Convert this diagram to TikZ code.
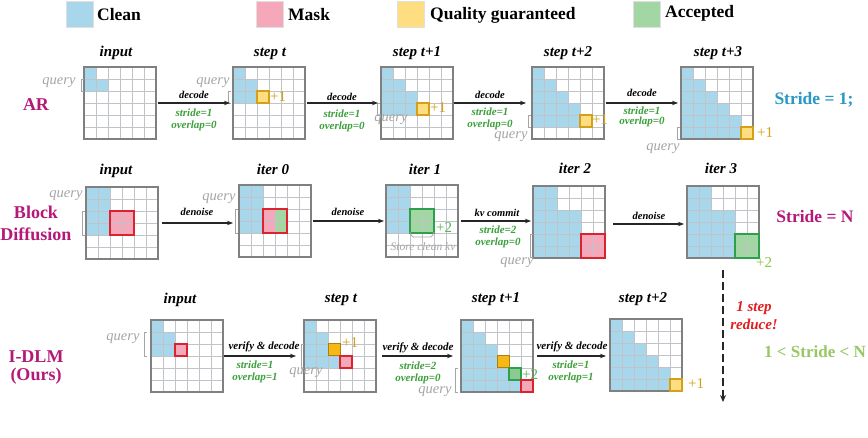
\documentclass[tikz,border=0pt]{standalone}
\usepackage{fontspec}
\setmainfont{Liberation Serif}
\usetikzlibrary{arrows.meta,calc}
\definecolor{cleanc}{RGB}{168,214,234}
\definecolor{maskc}{RGB}{245,168,186}
\definecolor{qualc}{RGB}{255,222,130}
\definecolor{qualdark}{RGB}{245,184,20}
\definecolor{accc}{RGB}{162,214,162}
\definecolor{gridc}{RGB}{192,196,200}
\definecolor{borderc}{RGB}{128,128,128}
\definecolor{redc}{RGB}{220,35,45}
\definecolor{greenc}{RGB}{45,160,75}
\definecolor{goldc}{RGB}{212,160,25}
\definecolor{labelc}{RGB}{60,160,60}
\definecolor{magc}{RGB}{180,25,120}
\definecolor{tealc}{RGB}{40,152,196}
\definecolor{lgreen}{RGB}{150,200,100}
\definecolor{queryc}{RGB}{165,165,165}
\definecolor{plusgreen}{RGB}{90,180,80}
\definecolor{plusl}{RGB}{140,196,70}
\definecolor{redtxt}{RGB}{225,30,30}
\newcommand{\mkgrid}[3]{\node[gridnode] (#1) at ({#2+36},{#3+36}) {};}
\newcommand{\fillrect}[6]{\fill[#6] ([shift={({12*(#3)},{12*(#2)})}]#1.north west) rectangle ++({12*(#4)},{12*(#5)});}
\newcommand{\stair}[2]{\foreach \ii in {0,...,#2}{\fillrect{#1}{\ii}{0}{\ii+1}{1}{cleanc}}}
\newcommand{\gridlines}[1]{\foreach \ii in {1,...,5}{\draw[gl] ([shift={({12*\ii},0)}]#1.north west) -- ++(0,72); \draw[gl] ([shift={(0,{12*\ii})}]#1.north west) -- ++(72,0);}\draw[gborder] (#1.north west) rectangle (#1.south east);}
\newcommand{\boxat}[5]{\draw[#5] ([shift={({12*(#3)},{12*(#2)})}]#1.north west) rectangle ++({12*(#4)},{12*(#4)});}
\newcommand{\qbrk}[3]{\draw[brk] ({#1+3},#2) -- (#1,#2) -- (#1,#3) -- ({#1+3},#3);}
\begin{document}
\begin{tikzpicture}[x=1pt,y=-1pt,
  gridnode/.style={minimum width=72pt,minimum height=72pt,inner sep=0pt,outer sep=0pt},
  gl/.style={draw=gridc,line width=0.6pt},
  gborder/.style={draw=borderc,line width=1.4pt},
  title/.style={font=\fontsize{15}{15}\selectfont\bfseries\itshape,inner sep=0pt,anchor=base},
  qtext/.style={font=\fontsize{14.5}{15}\selectfont\itshape,text=queryc,inner sep=0pt},
  albl/.style={font=\fontsize{10.5}{11}\selectfont\bfseries\itshape,inner sep=0pt},
  slbl/.style={font=\fontsize{11}{11}\selectfont\bfseries\itshape,text=labelc,inner sep=0pt},
  rowlbl/.style={font=\fontsize{18}{20}\selectfont\bfseries,text=magc,inner sep=0pt,anchor=base},
  bigl/.style={font=\fontsize{17.5}{18}\selectfont\bfseries,inner sep=0pt,anchor=base},
  plus/.style={font=\fontsize{15}{15}\selectfont,anchor=west,inner sep=0pt},
  arr/.style={-{Stealth[length=6pt,width=4.5pt]},line width=1.1pt,draw=black!85},
  dasharr/.style={-{Stealth[length=7pt,width=6pt]},line width=2pt,draw=black!85,dash pattern=on 8pt off 4pt},
  legbox/.style={minimum width=27pt,minimum height=26pt,inner sep=0pt,draw=black!12,line width=0.6pt},
  legtxt/.style={font=\fontsize{17.5}{18}\selectfont\bfseries,anchor=base west,inner sep=0pt},
  brk/.style={draw=queryc,line width=0.8pt},
  rbox/.style={draw=redc,line width=1.8pt},
  rboxf/.style={fill=maskc,draw=redc,line width=1.6pt},
  gbox/.style={draw=greenc,line width=1.8pt},
  gboxf/.style={fill=accc!80!greenc,draw=greenc,line width=1.6pt},
  ybox/.style={fill=qualc,draw=goldc,line width=1.4pt},
  ydbox/.style={fill=qualdark,draw=goldc!80!black,line width=1pt}
]
\useasboundingbox (0,0) rectangle (868,438);
\fill[white] (0,0) rectangle (868,438);

% legend
\node[legbox,fill=cleanc] (lg1) at (79.5,14) {};
\node[legtxt] (lt1) at (97,21) {Clean};
\node[legbox,fill=maskc] (lg2) at (270,14) {};
\node[legtxt] (lt2) at (288,21) {Mask};
\node[legbox,fill=qualc] (lg3) at (410.5,14) {};
\node[legtxt] (lt3) at (430,20) {Quality guaranteed};
\node[legbox,fill=accc] (lg4) at (646.5,14) {};
\node[legtxt] (lt4) at (665,18) {Accepted};

% row labels
\node[rowlbl] (rA) at (36,111) {AR};
\node[rowlbl] (rB1) at (36,219) {Block};
\node[rowlbl] (rB2) at (36,241) {Diffusion};
\node[rowlbl] (rC1) at (36,363) {I-DLM};
\node[rowlbl] (rC2) at (36,381) {(Ours)};

% ================= AR row =================
\mkgrid{A0}{84}{67}
\stair{A0}{1}
\gridlines{A0}
\mkgrid{A1}{233}{67}
\stair{A1}{1}
\fillrect{A1}{2}{0}{2}{1}{cleanc}
\gridlines{A1}
\boxat{A1}{2}{2}{1}{ybox}
\mkgrid{A2}{381}{67}
\stair{A2}{2}
\fillrect{A2}{3}{0}{3}{1}{cleanc}
\gridlines{A2}
\boxat{A2}{3}{3}{1}{ybox}
\mkgrid{A3}{532}{67}
\stair{A3}{3}
\fillrect{A3}{4}{0}{4}{1}{cleanc}
\gridlines{A3}
\boxat{A3}{4}{4}{1}{ybox}
\mkgrid{A4}{681}{67}
\stair{A4}{4}
\fillrect{A4}{5}{0}{5}{1}{cleanc}
\gridlines{A4}
\boxat{A4}{5}{5}{1}{ybox}

\node[title] (tA0) at (116,57) {input};
\node[title] (tA1) at (270,57) {step t};
\node[title] (tA2) at (417,57) {step t+1};
\node[title] (tA3) at (568,57) {step t+2};
\node[title] (tA4) at (718,57) {step t+3};

\node[qtext] (qA0) at (59,83) {query};
\qbrk{81}{79}{91}
\node[qtext] (qA1) at (213,83) {query};
\qbrk{228}{91}{103}
\node[qtext] (qA2) at (391,120) {query};
\qbrk{377}{103}{115}
\node[qtext] (qA3) at (511,137) {query};
\qbrk{528}{115}{127}
\node[qtext] (qA4) at (663,149) {query};
\qbrk{677}{127}{139}

\node[plus,text=goldc] (pA1) at (270,97) {+1};
\node[plus,text=goldc] (pA2) at (430,108) {+1};
\node[plus,text=goldc] (pA3) at (592,120) {+1};
\node[plus,text=goldc] (pA4) at (757,133) {+1};

\draw[arr] ([xshift=2pt]A0.east) -- ([xshift=-3pt]A1.west);
\draw[arr] ([xshift=2pt]A1.east) -- ([xshift=-3pt]A2.west);
\draw[arr] ([xshift=1pt]A2.east) -- ([xshift=-6pt]A3.west);
\draw[arr] ([xshift=2pt]A3.east) -- ([xshift=-3pt]A4.west);

\node[albl] (dA1) at (194,95) {decode};
\node[slbl] (sA1) at (194,113) {stride=1};
\node[slbl] (oA1) at (194,126) {overlap=0};
\node[albl] (dA2) at (342,97) {decode};
\node[slbl] (sA2) at (342,114) {stride=1};
\node[slbl] (oA2) at (342,127) {overlap=0};
\node[albl] (dA3) at (490,95) {decode};
\node[slbl] (sA3) at (490,112) {stride=1};
\node[slbl] (oA3) at (490,125) {overlap=0};
\node[albl] (dA4) at (642,93) {decode};
\node[slbl] (sA4) at (642,111) {stride=1};
\node[slbl] (oA4) at (642,122) {overlap=0};

\node[bigl,text=tealc] (strA) at (814,105) {Stride = 1;};

% ================= Block diffusion row =================
\mkgrid{B0}{86}{187}
\fillrect{B0}{0}{0}{2}{4}{cleanc}
\fillrect{B0}{2}{2}{2}{2}{maskc}
\gridlines{B0}
\boxat{B0}{2}{2}{2}{rbox}
\mkgrid{B1}{239}{185}
\fillrect{B1}{0}{0}{2}{4}{cleanc}
\fillrect{B1}{2}{2}{1}{2}{maskc}
\fillrect{B1}{2}{3}{1}{2}{accc}
\gridlines{B1}
\boxat{B1}{2}{2}{2}{rbox}
\mkgrid{B2}{386}{185}
\fillrect{B2}{0}{0}{2}{4}{cleanc}
\fillrect{B2}{2}{2}{2}{2}{accc}
\gridlines{B2}
\boxat{B2}{2}{2}{2}{gbox}
\mkgrid{B3}{533}{186}
\fillrect{B3}{0}{0}{2}{6}{cleanc}
\fillrect{B3}{2}{2}{2}{4}{cleanc}
\fillrect{B3}{4}{4}{2}{2}{maskc}
\gridlines{B3}
\boxat{B3}{4}{4}{2}{rbox}
\mkgrid{B4}{687}{186}
\fillrect{B4}{0}{0}{2}{6}{cleanc}
\fillrect{B4}{2}{2}{2}{4}{cleanc}
\fillrect{B4}{4}{4}{2}{2}{accc}
\gridlines{B4}
\boxat{B4}{4}{4}{2}{gbox}

\node[title] (tB0) at (116,175) {input};
\node[title] (tB1) at (273,175) {iter 0};
\node[title] (tB2) at (425,175) {iter 1};
\node[title] (tB3) at (575,174) {iter 2};
\node[title] (tB4) at (721,174) {iter 3};

\node[qtext] (qB0) at (66,196) {query};
\qbrk{82}{211}{235}
\node[qtext] (qB1) at (219,199) {query};
\qbrk{235}{209}{233}
\node[qtext] (qB3) at (517,263) {query};
\qbrk{530}{234}{257}

\node[plus,text=plusgreen] (pB2) at (436,228) {+2};
\node[plus,text=plusl] (pB4) at (756,263) {+2};
\draw[brk,rounded corners=1.5pt] (410,232) -- (412,237) -- (432,237) -- (434,232);
\node[qtext,font=\fontsize{11.5}{12}\selectfont\itshape] (sck) at (423,247) {Store clean kv};

\draw[arr] ([xshift=4pt]B0.east) -- ($(B1.west |- B0.east)+(-6,0)$);
\draw[arr] ([xshift=2pt]B1.east) -- ([xshift=-2pt]B2.west);
\draw[arr] ([xshift=3pt]B2.east) -- ($(B3.west |- B2.east)+(-2,0)$);
\draw[arr] ($(B3.east)+(8,2)$) -- ($(B4.west)+(-3,2)$);

\node[albl] (dB1) at (197,212) {denoise};
\node[albl] (dB2) at (348,212) {denoise};
\node[albl] (dB3) at (497,213) {kv commit};
\node[slbl] (sB3) at (498,230) {stride=2};
\node[slbl] (oB3) at (498,243) {overlap=0};
\node[albl] (dB4) at (649,216) {denoise};

\node[bigl,text=magc] (strB) at (815,223) {Stride = N};

% ================= I-DLM row =================
\mkgrid{C0}{151}{320}
\fillrect{C0}{0}{0}{1}{3}{cleanc}
\fillrect{C0}{1}{1}{1}{2}{cleanc}
\gridlines{C0}
\boxat{C0}{2}{2}{1}{rboxf}
\mkgrid{C1}{304}{320}
\fillrect{C1}{0}{0}{1}{4}{cleanc}
\fillrect{C1}{1}{1}{1}{3}{cleanc}
\fillrect{C1}{3}{2}{1}{1}{cleanc}
\gridlines{C1}
\boxat{C1}{2}{2}{1}{ydbox}
\boxat{C1}{3}{3}{1}{rboxf}
\mkgrid{C2}{461}{320}
\stair{C2}{2}
\fillrect{C2}{3}{0}{3}{1}{cleanc}
\fillrect{C2}{4}{0}{4}{1}{cleanc}
\fillrect{C2}{5}{0}{5}{1}{cleanc}
\gridlines{C2}
\boxat{C2}{3}{3}{1}{ydbox}
\boxat{C2}{4}{4}{1}{gboxf}
\boxat{C2}{5}{5}{1}{rboxf}
\mkgrid{C3}{610}{319}
\stair{C3}{4}
\fillrect{C3}{5}{0}{5}{1}{cleanc}
\gridlines{C3}
\boxat{C3}{5}{5}{1}{ybox}

\node[title] (tC0) at (180,304) {input};
\node[title] (tC1) at (341,303) {step t};
\node[title] (tC2) at (496,303) {step t+1};
\node[title] (tC3) at (643,303) {step t+2};

\node[qtext] (qC0) at (123,339) {query};
\qbrk{144}{332}{356}
\node[qtext] (qC1) at (306,373) {query};
\qbrk{301}{344}{368}
\node[qtext] (qC2) at (435,392) {query};
\qbrk{455}{368}{392}

\node[plus,text=goldc] (pC1) at (342,343) {+1};
\node[plus,text=plusgreen] (pC2) at (522,375) {+2};
\node[plus,text=goldc] (pC3) at (688,384) {+1};

\draw[arr] ([xshift=1pt]C0.east) -- ([xshift=-8pt]C1.west);
\draw[arr] ([xshift=6pt]C1.east) -- ([xshift=-8pt]C2.west);
\draw[arr] ([xshift=4pt]C2.east) -- ($(C3.west |- C2.east)+(-4,0)$);

\node[albl,font=\fontsize{11}{11}\selectfont\bfseries\itshape] (dC1) at (264,347) {verify \& decode};
\node[slbl] (sC1) at (255,365) {stride=1};
\node[slbl] (oC1) at (255,378) {overlap=1};
\node[albl,font=\fontsize{11}{11}\selectfont\bfseries\itshape] (dC2) at (418,348) {verify \& decode};
\node[slbl] (sC2) at (418,366) {stride=2};
\node[slbl] (oC2) at (418,379) {overlap=0};
\node[albl,font=\fontsize{11}{11}\selectfont\bfseries\itshape] (dC3) at (572,347) {verify \& decode};
\node[slbl] (sC3) at (571,365) {stride=1};
\node[slbl] (oC3) at (571,378) {overlap=1};

\coordinate (dsS) at (723,270);
\coordinate (dsE) at (723,402);
\draw[dasharr] (dsS) -- (dsE);
\node[font=\fontsize{15}{18}\selectfont\bfseries\itshape,text=redtxt,align=center,inner sep=0pt] (red) at (754,316) {1 step\\reduce!};

\node[bigl,text=lgreen,font=\fontsize{17}{18}\selectfont\bfseries] (strC) at (815,358) {1 < Stride < N};
\end{tikzpicture}
\end{document}
